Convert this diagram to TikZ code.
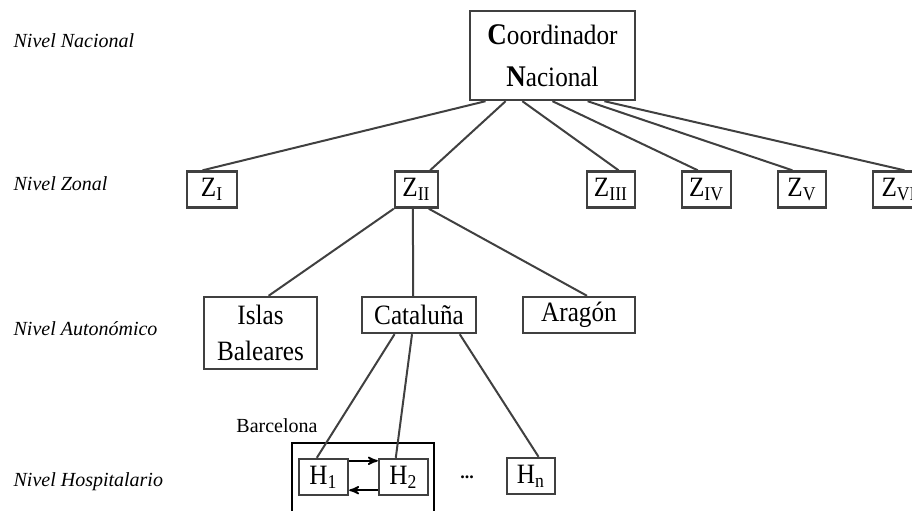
\documentclass[tikz,border=0pt]{standalone}
\usepackage{fontspec}
\setmainfont{Liberation Serif}
\newfontfamily\cajafont{Liberation Serif}[FakeStretch=0.9]
\usetikzlibrary{arrows,positioning,calc}

\begin{document}
\begin{tikzpicture}[x=0.5pt, y=-0.5pt, >=stealth', semithick]
\tikzstyle{every node}=[font=\cajafont\fontsize{14}{15}\selectfont]
\tikzstyle{caja}=[draw=black!75, line width=1.2pt, fill=white, inner sep=0pt, minimum height=18pt]
\tikzstyle{nivel}=[anchor=base west, inner sep=0pt, font=\rmfamily\fontsize{10}{12}\selectfont\itshape]
\tikzstyle{rama}=[draw=black!75, line width=1pt]
\useasboundingbox (0,0) rectangle (912,510);

% niveles
\node[nivel] (nNac)  at (13,47)  {Nivel Nacional};
\node[nivel] (nZon)  at (13,190) {Nivel Zonal};
\node[nivel] (nAut)  at (13,335) {Nivel Autonómico};
\node[nivel] (nHosp) at (13,486) {Nivel Hospitalario};

% coordinador
\node[caja, minimum width=82.5pt, minimum height=44.5pt, align=center, font=\cajafont\fontsize{14}{21}\selectfont]
  (coord) at (552.5,55.5) {{\fontsize{15}{15}\selectfont\bfseries C}oordinador\\{\fontsize{15}{15}\selectfont\bfseries N}acional};

% zonas
\node[caja, minimum width=25pt]   (zI)   at (212,189.5)   {Z\textsubscript{I}};
\node[caja, minimum width=21.5pt] (zII)  at (416.5,189.5) {Z\textsubscript{II}};
\node[caja, minimum width=24pt]   (zIII) at (611,189.5)   {Z\textsubscript{III}};
\node[caja, minimum width=24.5pt] (zIV)  at (706.5,189.5) {Z\textsubscript{IV}};
\node[caja, minimum width=24pt]   (zV)   at (802,189.5)   {Z\textsubscript{V}};
\node[caja, minimum width=26pt]   (zVI)  at (899,189.5)   {Z\textsubscript{VI}};

% comunidades
\node[caja, minimum width=56.5pt, minimum height=36pt, align=center, font=\cajafont\fontsize{14}{18}\selectfont]
  (bal) at (260.5,333) {Islas\\Baleares};
\node[caja, minimum width=57pt] (cat) at (419,315) {Cataluña};
\node[caja, minimum width=56pt] (ara) at (579,315) {Aragón};

% hospitales
\node[draw=black, line width=0.8pt, minimum width=71pt, minimum height=50pt, anchor=north west] (bcn) at (291,442) {};
\node[anchor=base, inner sep=0pt, font=\rmfamily\fontsize{10}{12}\selectfont] (lblBcn) at (277,432) {Barcelona};
\node[caja, minimum width=24.5pt] (h1) at (323.5,477) {H\textsubscript{1}};
\node[caja, minimum width=24.5pt] (h2) at (403.5,477) {H\textsubscript{2}};
\node[inner sep=0pt, font=\rmfamily\fontsize{9}{9}\selectfont\bfseries] (dots) at (467,477) {...};
\node[caja, minimum width=24pt] (hn) at (531,476) {H\textsubscript{n}};

% ramas
\path[rama]
($(coord.south west)!.10!(coord.south east)$) edge ($(zI.north west)!.32!(zI.north east)$)
($(coord.south west)!.22!(coord.south east)$) edge ($(zII.north west)!.80!(zII.north east)$)
($(coord.south west)!.32!(coord.south east)$) edge ($(zIII.north west)!.65!(zIII.north east)$)
($(coord.south west)!.50!(coord.south east)$) edge ($(zIV.north west)!.33!(zIV.north east)$)
($(coord.south west)!.71!(coord.south east)$) edge ($(zV.north west)!.31!(zV.north east)$)
($(coord.south west)!.81!(coord.south east)$) edge ($(zVI.north west)!.60!(zVI.north east)$)
(zII.south west) edge ($(bal.north west)!.57!(bal.north east)$)
($(zII.south west)!.42!(zII.south east)$) edge ($(cat.north west)!.45!(cat.north east)$)
($(zII.south west)!.77!(zII.south east)$) edge ($(ara.north west)!.57!(ara.north east)$)
($(cat.south west)!.29!(cat.south east)$) edge ($(h1.north west)!.37!(h1.north east)$)
($(cat.south west)!.44!(cat.south east)$) edge ($(h2.north west)!.35!(h2.north east)$)
($(cat.south west)!.85!(cat.south east)$) edge ($(hn.north west)!.65!(hn.north east)$);

% flechas
\draw[->, line width=0.8pt] ($(h1.north east)+(0,3)$) -- ($(h2.north west)+(0,3)$);
\draw[->, line width=0.8pt] ($(h2.south west)+(0,-6)$) -- ($(h1.south east)+(0,-6)$);
\end{tikzpicture}
\end{document}
